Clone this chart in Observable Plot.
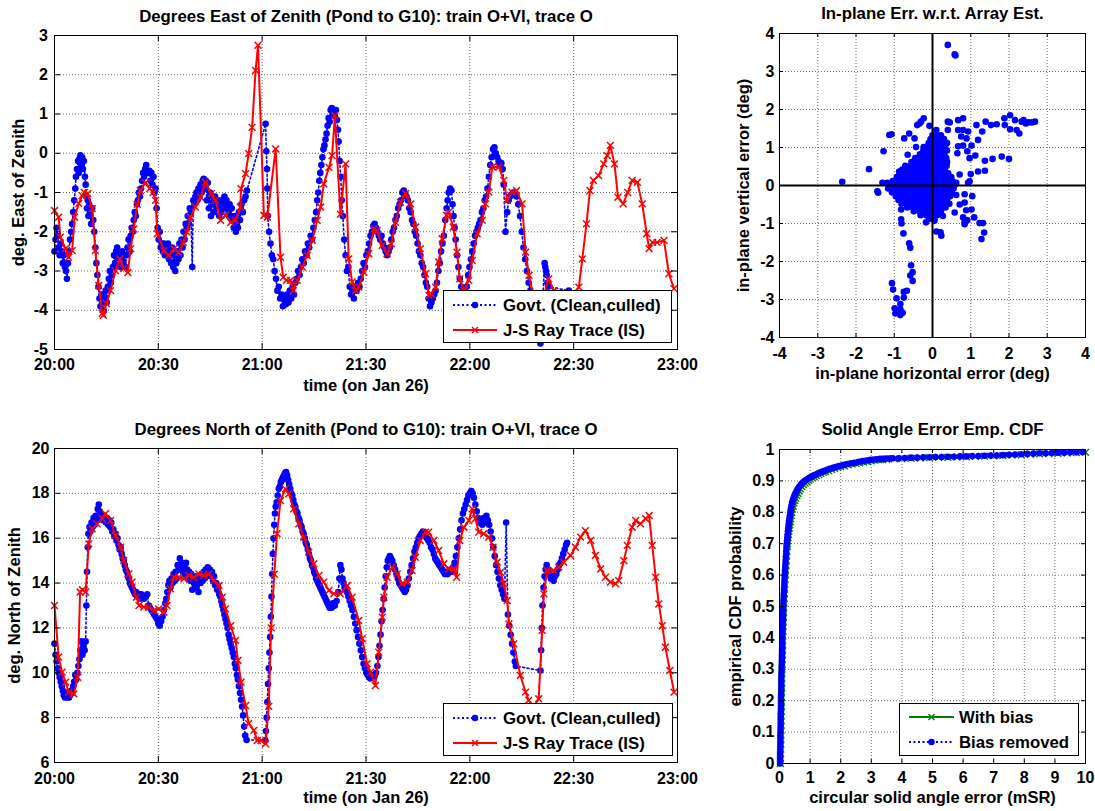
<!DOCTYPE html>
<html><head><meta charset="utf-8">
<script src="https://cdn.jsdelivr.net/npm/d3@7"></script>
<script src="https://cdn.jsdelivr.net/npm/@observablehq/plot@0.6"></script>
<style>
html,body{margin:0;padding:0;background:#fff;}
#page{position:relative;width:1095px;height:811px;overflow:hidden;background:#fff;}
</style></head><body><div id="page"></div>
<script>
// ---------------- DATA ----------------
const timeTicks = [0, 30, 60, 90, 120, 150, 180];
const timeLabels = ["20:00", "20:30", "21:00", "21:30", "22:00", "22:30", "23:00"];
const eastTicks = [-5, -4, -3, -2, -1, 0, 1, 2, 3];
const northTicks = [6, 8, 10, 12, 14, 16, 18, 20];
const errTicks = [-4, -3, -2, -1, 0, 1, 2, 3, 4];
const cdfXTicks = [0, 1, 2, 3, 4, 5, 6, 7, 8, 9, 10];
const cdfYTicks = [0, 0.1, 0.2, 0.3, 0.4, 0.5, 0.6, 0.7, 0.8, 0.9, 1];

const titles = [
  "Degrees East of Zenith (Pond to G10): train O+VI, trace O",
  "In-plane Err. w.r.t. Array Est.",
  "Degrees North of Zenith (Pond to G10): train O+VI, trace O",
  "Solid Angle Error Emp. CDF"
];
const seriesNames = ["Govt. (Clean,culled)", "J-S Ray Trace (IS)"];
const cdfNames = ["With bias", "Bias removed"];

// minutes after 20:00, degrees east of zenith
const eastRay = [[0,-1.46],[1.2,-1.63],[1.7,-2.14],[3.2,-2.43],[4.1,-2.65],[5.1,-2.48],[5.8,-1.63],[7,-1.28],[8,-1.08],[8.6,-1.0],[9.6,-1.03],[10.9,-1.41],[11.8,-2.48],[12.8,-3.37],[13.8,-4.08],[14.1,-4.13],[15,-3.83],[16.2,-3.5],[17.6,-2.99],[18.9,-2.69],[20,-2.94],[21.2,-3.04],[22,-2.43],[22.9,-1.93],[23.9,-1.3],[24.8,-0.95],[26.3,-0.75],[27.5,-0.9],[28.5,-1.0],[29.2,-1.2],[29.7,-2.05],[31.6,-2.48],[33,-2.6],[34.5,-2.43],[35.9,-2.53],[37.2,-2.27],[38.3,-2.01],[39.3,-1.63],[40.7,-1.37],[42.2,-1.12],[43.6,-0.74],[45.3,-1.03],[46.5,-1.2],[48,-1.71],[49.4,-1.58],[50.9,-1.76],[52.3,-1.71],[53.7,-1.37],[53.9,-0.9],[55.2,-0.52],[56.1,-0.01],[57.1,0.66],[58.1,2.11],[58.8,2.75],[60.5,-1.58],[61.5,-1.63],[63.9,0.11],[65.3,-2.65],[66.1,-3.16],[67,-3.24],[68.2,-3.24],[69,-3.5],[70.1,-3.24],[71.6,-2.9],[73,-2.6],[74.5,-2.22],[75.9,-1.71],[76.9,-1.37],[77.8,-0.78],[79.3,-0.36],[80.2,-0.06],[81,0.96],[82.6,-1.55],[84.1,-0.27],[85,-2.69],[86,-3.28],[87,-3.5],[87.9,-3.41],[89.4,-3.03],[90.8,-2.56],[92.3,-1.93],[93.2,-1.97],[94.7,-2.35],[96.1,-2.56],[97.3,-2.31],[98.5,-1.76],[100,-1.25],[101.4,-1.03],[102.9,-1.29],[104.3,-1.88],[105.7,-2.43],[107.2,-3.07],[108.2,-3.62],[108.8,-3.58],[110.1,-3.41],[111,-2.77],[112,-2.18],[113.3,-1.58],[113.9,-1.5],[115.2,-1.88],[116.3,-2.52],[117.1,-3.2],[118.3,-3.5],[119.7,-3.24],[120.7,-2.73],[122.1,-2.05],[123.6,-1.71],[124.5,-1.29],[125.5,-0.99],[126.5,-0.35],[128.4,-0.35],[129.8,-0.69],[130.8,-1.2],[132.2,-0.99],[133.5,-0.95],[135.1,-1.29],[136.1,-2.52],[137.1,-3.11],[138.5,-3.7],[140,-3.9],[141.4,-3.6],[142.8,-3.2],[144.3,-3.5],[145.8,-3.8],[147.2,-3.9],[148.7,-3.8],[150.1,-3.6],[151.5,-3.41],[152.5,-2.69],[153.7,-1.8],[154.7,-0.95],[155.7,-0.69],[157.2,-0.57],[158.7,-0.27],[159.7,-0.06],[160.6,0.2],[161.8,-0.27],[162.8,-1.12],[164.3,-1.29],[165.6,-1.0],[166.9,-0.69],[168.4,-0.74],[169.8,-1.29],[171.1,-2.05],[171.8,-2.43],[172.8,-2.27],[174.1,-2.27],[176.1,-2.22],[177.5,-3.07],[179,-3.45]];

const eastGovt = [[0,-2.5],[0.3,-2.2],[0.6,-1.9],[0.9,-2.1],[1.2,-2.4],[1.5,-2.6],[1.8,-2.3],[2.1,-2.5],[2.4,-2.8],[2.7,-2.6],[3,-2.9],[3.3,-3.0],[3.6,-3.2],[3.9,-2.8],[4.2,-2.5],[4.5,-2.2],[4.8,-2.0],[5.1,-1.8],[5.4,-1.5],[5.7,-1.2],[6,-0.9],[6.2,-0.6],[6.5,-0.4],[6.8,-0.2],[7,-0.5],[7.2,-0.15],[7.5,-0.05],[7.8,-0.3],[8,-0.1],[8.2,-0.4],[8.5,-0.2],[8.8,-0.6],[9,-0.8],[9.2,-1.1],[9.4,-1.4],[9.6,-1.2],[9.8,-1.6],[10,-1.3],[10.3,-1.5],[10.6,-1.8],[10.9,-1.4],[11.2,-1.7],[11.5,-2.0],[11.8,-2.4],[12.1,-2.8],[12.4,-3.1],[12.7,-3.4],[13,-3.7],[13.3,-3.9],[13.6,-3.6],[13.9,-3.8],[14.2,-4.0],[14.5,-3.7],[14.8,-3.5],[15.1,-3.8],[15.4,-3.4],[15.7,-3.2],[16,-3.0],[16.3,-3.3],[16.6,-3.1],[16.9,-2.9],[17.2,-2.6],[17.5,-2.8],[17.8,-2.5],[18.1,-2.4],[18.4,-2.7],[18.7,-2.6],[19,-2.9],[19.3,-2.7],[19.6,-2.5],[19.9,-2.8],[20.2,-2.6],[20.5,-2.9],[20.8,-2.6],[21.1,-2.4],[21.4,-2.2],[21.7,-2.5],[22,-2.1],[22.3,-1.9],[22.6,-2.0],[22.9,-1.7],[23.2,-1.5],[23.5,-1.6],[23.8,-1.3],[24.1,-1.2],[24.4,-1.0],[24.7,-1.1],[25,-0.9],[25.3,-0.7],[25.6,-0.5],[25.9,-0.6],[26.2,-0.4],[26.5,-0.3],[26.8,-0.45],[27.1,-0.5],[27.4,-0.45],[27.7,-0.7],[28,-0.5],[28.3,-0.8],[28.6,-0.6],[28.9,-1.0],[29.2,-0.9],[29.5,-1.4],[29.8,-1.9],[30.1,-2.2],[30.4,-2.0],[30.7,-2.4],[31,-2.3],[31.3,-2.5],[31.6,-2.3],[31.9,-2.6],[32.2,-2.4],[32.5,-2.6],[32.8,-2.3],[33.1,-2.7],[33.4,-2.5],[33.7,-2.8],[34,-2.4],[34.3,-2.9],[34.6,-2.6],[34.9,-3.0],[35.2,-2.8],[35.5,-2.5],[35.8,-2.7],[36.1,-2.3],[36.4,-2.6],[36.7,-2.2],[37,-2.4],[37.3,-2.0],[37.6,-2.2],[37.9,-1.8],[38.2,-1.9],[38.5,-1.6],[38.8,-1.8],[39.1,-1.4],[39.4,-1.5],[39.8,-2.9],[40.1,-1.2],[40.4,-1.3],[40.7,-1.1],[41,-1.0],[41.3,-1.2],[41.6,-0.9],[41.9,-1.1],[42.2,-0.8],[42.5,-1.0],[42.8,-0.7],[43.1,-0.65],[43.4,-0.9],[43.7,-0.7],[44,-1.2],[44.3,-0.75],[44.6,-1.4],[44.9,-1.0],[45.2,-1.6],[45.5,-1.1],[45.8,-1.3],[46.1,-1.5],[46.4,-1.1],[46.7,-1.2],[47,-1.4],[47.3,-1.2],[47.6,-1.6],[47.9,-1.3],[48.2,-1.5],[48.5,-1.2],[48.8,-1.3],[49.1,-1.1],[49.4,-1.4],[49.7,-1.2],[50,-1.3],[50.3,-1.5],[50.6,-1.3],[50.9,-1.6],[51.2,-1.4],[51.5,-1.7],[51.8,-1.9],[52.1,-1.6],[52.4,-2.0],[52.7,-1.8],[53,-1.9],[53.3,-1.5],[53.6,-1.7],[54,-1.3],[54.4,-1.5],[54.8,-1.2],[55.2,-1.1],[55.6,-0.95],[61,0.75],[61.2,0.05],[61.4,-0.4],[61.5,-0.9],[61.6,-1.6],[62,-2.0],[62.4,-2.3],[62.8,-2.6],[63.2,-2.7],[63.6,-3.0],[64,-3.2],[64.4,-3.5],[64.8,-3.4],[65.2,-3.7],[65.6,-3.6],[66,-3.9],[66.4,-3.7],[66.8,-3.85],[67.2,-3.6],[67.6,-3.8],[68,-3.5],[68.4,-3.7],[68.8,-3.4],[69.2,-3.6],[69.6,-3.3],[70,-3.2],[70.4,-3.0],[70.8,-3.1],[71.2,-2.9],[71.6,-2.7],[72,-2.8],[72.4,-2.5],[72.8,-2.6],[73.2,-2.3],[73.6,-2.4],[74,-2.1],[74.4,-2.2],[74.8,-1.9],[75.2,-1.7],[75.6,-1.5],[75.9,-1.2],[76.2,-1.0],[76.5,-0.7],[76.8,-0.5],[77.1,-0.3],[77.4,-0.1],[77.7,0.1],[78,0.2],[78.3,0.35],[78.6,0.5],[78.9,0.7],[79.2,0.9],[79.5,0.8],[79.8,1.1],[80.1,1.15],[80.4,1.0],[80.7,1.1],[81,0.95],[81.3,1.1],[81.6,0.85],[81.9,0.6],[82.1,0.3],[82.4,-0.2],[82.7,-0.6],[83,-1.2],[83.3,-1.6],[83.7,-2.2],[84.1,-2.6],[84.5,-3.0],[84.9,-2.9],[85.3,-3.4],[85.7,-3.6],[86.1,-3.5],[86.5,-3.7],[86.9,-3.4],[87.3,-3.5],[87.7,-3.3],[88.1,-3.4],[88.5,-3.2],[88.9,-3.0],[89.3,-2.8],[89.7,-2.9],[90.1,-2.6],[90.5,-2.5],[90.9,-2.3],[91.3,-2.1],[91.7,-2.0],[92.1,-1.85],[92.5,-1.8],[92.9,-1.9],[93.3,-2.0],[93.7,-2.1],[94.1,-2.2],[94.5,-2.1],[94.9,-2.3],[95.3,-2.4],[95.7,-2.5],[96.1,-2.6],[96.5,-2.5],[96.9,-2.4],[97.3,-2.2],[97.7,-2.0],[98.1,-1.9],[98.5,-1.7],[98.9,-1.6],[99.3,-1.4],[99.7,-1.3],[100.1,-1.2],[100.5,-1.0],[100.9,-0.95],[101.3,-1.05],[101.7,-1.1],[102.1,-1.2],[102.5,-1.4],[102.9,-1.5],[103.3,-1.7],[103.7,-1.8],[104.1,-2.0],[104.5,-2.1],[104.9,-2.3],[105.3,-2.5],[105.7,-2.6],[106.1,-2.8],[106.5,-2.9],[106.9,-3.1],[107.3,-3.3],[107.7,-3.4],[108.1,-3.7],[108.5,-3.9],[108.9,-3.8],[109.3,-3.7],[109.7,-3.6],[110.1,-3.5],[110.5,-3.3],[110.9,-3.0],[111.3,-2.8],[111.7,-2.5],[112.1,-2.3],[112.5,-2.1],[112.9,-1.7],[113.3,-1.4],[113.6,-1.2],[113.9,-1.0],[114.3,-0.9],[114.7,-0.95],[115,-1.3],[115.3,-1.6],[115.6,-1.9],[115.9,-2.2],[116.3,-2.6],[116.7,-2.9],[117.1,-3.2],[117.5,-3.4],[117.9,-3.6],[118.3,-3.8],[118.7,-3.7],[119.1,-3.4],[119.5,-3.1],[119.9,-2.9],[120.3,-2.7],[120.7,-2.5],[121.1,-2.3],[121.5,-2.1],[121.9,-2.0],[122.3,-1.9],[122.7,-1.8],[123.1,-1.7],[123.5,-1.5],[123.9,-1.4],[124.3,-1.2],[124.7,-1.1],[125.1,-0.9],[125.5,-0.6],[125.9,-0.3],[126.3,-0.1],[126.7,0.1],[127.1,0.15],[127.5,0.0],[127.9,-0.1],[128.3,-0.2],[128.7,-0.3],[129.1,-0.25],[129.5,-0.4],[129.8,-0.8],[130.3,-2.0],[130.8,-1.5],[131.2,-1.2],[131.6,-1.1],[132,-1.05],[132.5,-1.0],[133,-1.05],[133.5,-1.1],[134,-1.3],[134.5,-1.6],[135,-2.0],[135.5,-2.4],[136,-2.7],[136.5,-3.0],[137,-3.3],[137.5,-3.5],[138,-3.7],[138.5,-3.9],[140.4,-4.85],[141.6,-2.8],[141.8,-2.9],[142,-3.0],[142.2,-3.1],[142.4,-3.3],[142.6,-3.4],[148.6,-3.5]];

// minutes after 20:00, degrees north of zenith
const northRay = [[0,13.0],[1.2,10.7],[2.2,10.03],[3.2,9.58],[4.1,9.14],[5.6,9.06],[6.7,9.8],[7.4,13.6],[8.1,13.7],[9,13.6],[9.9,15.75],[10.9,16.42],[12.3,16.64],[13.8,16.87],[14.7,17.09],[16.2,16.79],[17.6,16.12],[19.1,15.6],[20,15.0],[21.5,14.41],[22.4,14.04],[23.7,13.37],[24.4,13.0],[25.8,12.93],[27.2,12.93],[28.7,12.78],[30.1,12.85],[31.6,12.7],[32.5,13.0],[33.5,13.74],[34.5,14.26],[35.9,14.26],[37.4,14.19],[38.8,14.34],[40.2,14.26],[41.7,14.41],[43.1,14.34],[44.6,14.41],[46,14.11],[47.5,13.89],[48.5,13.37],[49.4,12.85],[50.9,12.1],[52.3,11.44],[53,10.55],[53.9,9.58],[55.2,8.54],[56.1,7.73],[57.6,7.43],[58.6,6.98],[59.7,6.98],[61,6.83],[61.9,8.5],[62.6,12.0],[63.5,14.4],[64.3,16.2],[65.3,17.68],[66.7,18.2],[67.7,17.98],[69.1,17.31],[70.6,16.64],[72,16.05],[73.5,15.38],[74.9,14.86],[76.4,14.34],[77.8,14.04],[79.3,13.67],[80.7,13.52],[82.6,13.52],[84.6,13.89],[86,13.37],[87.9,12.33],[88.9,11.52],[90.3,10.4],[91.3,10.03],[92.7,9.43],[93.7,10.92],[94.7,12.48],[95.2,13.37],[96.1,14.26],[97.6,14.71],[99,14.41],[100.4,13.97],[101.9,14.04],[103.3,14.56],[104.3,15.15],[105.7,15.9],[107.2,16.27],[108.1,16.27],[109.6,15.9],[111,15.45],[112.5,14.86],[113.9,14.63],[115.4,14.63],[116.2,14.26],[117.1,15.9],[118.3,16.49],[119.7,16.79],[120.7,17.31],[121.6,16.87],[122.6,16.27],[124,16.2],[125.5,16.05],[126.7,15.6],[127.9,14.93],[128.9,14.48],[129.8,13.97],[130.8,13.22],[131.3,12.18],[132.7,11.29],[134.6,9.88],[136.1,9.14],[137,8.77],[138.5,8.5],[139.9,8.84],[140.9,11.89],[141.4,13.52],[142.3,14.56],[144.2,14.56],[145.7,14.71],[147.1,14.93],[149.1,15.23],[150.5,15.6],[152,16.05],[153.4,16.34],[154.9,15.9],[156.3,15.23],[157.8,14.63],[159.2,14.26],[160.6,14.04],[162.1,13.97],[163,14.11],[164.5,15.0],[165.5,15.68],[166.9,16.49],[167.9,16.79],[169.3,16.64],[170.8,16.87],[171.8,17.01],[172.7,15.68],[173.7,14.26],[174.6,13.07],[175.6,12.1],[176.5,11.14],[177.8,10.1],[179,9.14]];

const northGovt = [[0,11.3],[0.3,10.8],[0.6,10.5],[0.9,10.2],[1.2,10.0],[1.5,9.8],[1.8,9.6],[2.1,9.4],[2.4,9.2],[2.7,9.0],[3,8.9],[3.3,9.0],[3.6,8.9],[3.9,9.1],[4.2,8.9],[4.5,9.0],[4.8,9.2],[5.1,9.1],[5.4,9.4],[5.7,9.6],[6,9.9],[6.3,9.7],[6.6,10.0],[6.9,10.3],[7.2,10.6],[7.5,11.0],[7.8,11.4],[8.1,10.8],[8.4,11.2],[8.7,11.0],[9,11.4],[9.2,13.0],[9.4,14.5],[9.6,15.6],[9.8,16.2],[10.1,16.5],[10.4,16.3],[10.7,16.7],[11,16.5],[11.3,16.9],[11.6,16.6],[11.9,17.0],[12.2,16.8],[12.5,17.3],[12.8,17.5],[13.1,17.2],[13.4,16.9],[13.7,17.0],[14,16.8],[14.3,17.0],[14.6,16.9],[14.9,16.7],[15.2,16.9],[15.5,16.6],[15.8,16.8],[16.1,16.5],[16.4,16.7],[16.7,16.3],[17,16.4],[17.3,16.1],[17.6,16.2],[17.9,15.9],[18.2,16.0],[18.5,15.7],[18.8,15.5],[19.1,15.6],[19.4,15.3],[19.7,15.1],[20,15.0],[20.3,14.8],[20.6,14.6],[20.9,14.5],[21.2,14.3],[21.5,14.2],[21.8,14.0],[22.1,13.9],[22.4,13.8],[22.7,13.7],[23,13.6],[23.3,13.5],[23.6,13.6],[23.9,13.4],[24.2,13.5],[24.5,13.4],[24.8,13.3],[25.1,13.5],[25.5,13.4],[25.9,13.3],[26.3,13.4],[26.8,13.5],[27.2,13.0],[27.6,12.9],[28,12.8],[28.4,12.7],[28.8,12.6],[29.2,12.5],[29.6,12.4],[30,12.2],[30.4,12.1],[30.8,12.3],[31.2,12.5],[31.6,12.8],[32,13.1],[32.3,13.3],[32.6,13.6],[32.9,13.9],[33.2,14.1],[33.5,13.8],[33.8,14.2],[34.1,14.0],[34.4,14.4],[34.7,14.1],[35,14.5],[35.3,14.2],[35.6,14.8],[35.9,14.6],[36.2,15.1],[36.5,14.7],[36.8,14.9],[37.1,14.5],[37.4,14.8],[37.7,14.4],[38,14.9],[38.3,14.6],[38.6,14.2],[38.9,14.5],[39.2,14.1],[39.5,14.4],[39.8,13.7],[40.1,14.2],[40.4,14.0],[40.7,14.3],[41,13.8],[41.3,14.1],[41.6,13.6],[41.9,14.3],[42.2,14.0],[42.5,14.4],[42.8,14.1],[43.1,14.5],[43.4,14.2],[43.7,14.6],[44,14.3],[44.3,14.7],[44.6,14.4],[44.9,14.6],[45.2,14.3],[45.5,14.5],[45.8,14.1],[46.1,14.3],[46.4,13.9],[46.7,14.0],[47,13.7],[47.3,13.8],[47.6,13.5],[47.9,13.4],[48.2,13.2],[48.5,13.0],[48.8,12.8],[49.1,12.6],[49.4,12.4],[49.7,12.2],[50,12.0],[50.3,11.7],[50.6,11.5],[50.9,11.3],[51.2,11.1],[51.5,10.9],[51.8,10.7],[52.1,10.4],[52.4,10.2],[52.7,9.9],[53,9.7],[53.3,9.4],[53.6,9.1],[53.9,8.8],[54.2,8.5],[54.5,8.1],[54.8,7.6],[55.1,7.2],[55.5,7.0],[60.9,7.0],[61.1,7.4],[61.3,8.0],[61.5,8.7],[61.7,9.5],[61.9,10.2],[62.1,10.9],[62.3,11.6],[62.5,12.5],[62.7,13.4],[62.9,14.4],[63.1,15.3],[63.3,16.0],[63.5,16.6],[63.7,17.1],[63.9,17.4],[64.2,17.6],[64.5,17.9],[64.8,18.2],[65.1,18.3],[65.4,18.5],[65.7,18.6],[66,18.7],[66.3,18.8],[66.6,18.9],[66.9,18.95],[67.2,18.8],[67.5,18.6],[67.8,18.4],[68.1,18.2],[68.4,18.0],[68.7,17.9],[69,17.7],[69.3,17.5],[69.6,17.4],[69.9,17.2],[70.2,17.1],[70.5,16.9],[70.8,16.8],[71.1,16.6],[71.4,16.5],[71.7,16.3],[72,16.2],[72.3,16.0],[72.6,15.8],[72.9,15.7],[73.2,15.5],[73.5,15.3],[73.8,15.1],[74.1,15.0],[74.4,14.8],[74.7,14.7],[75,14.5],[75.3,14.4],[75.6,14.2],[75.9,14.1],[76.2,14.0],[76.5,13.9],[76.8,13.8],[77.1,13.7],[77.4,13.6],[77.7,13.5],[78,13.4],[78.3,13.3],[78.6,13.2],[78.9,13.1],[79.2,13.0],[79.5,12.9],[79.8,13.0],[80.1,12.9],[80.4,13.1],[80.7,13.0],[81,13.0],[81.5,13.2],[82,13.6],[82.3,14.2],[82.6,14.8],[82.9,14.6],[83.2,14.2],[83.5,14.0],[83.8,13.8],[84.1,13.7],[84.5,13.6],[84.9,13.4],[85.3,13.2],[85.7,13.0],[86.1,12.8],[86.5,12.5],[86.9,12.2],[87.3,11.9],[87.7,11.6],[88.1,11.3],[88.5,11.0],[88.9,10.7],[89.3,10.4],[89.7,10.2],[90.1,10.0],[90.5,9.9],[90.9,9.8],[91.3,9.75],[91.7,9.8],[92.1,9.9],[92.5,9.85],[92.9,10.0],[93.3,10.3],[93.6,10.7],[93.9,11.2],[94.2,11.7],[94.5,12.3],[94.8,12.8],[95.1,13.3],[95.4,13.8],[95.7,14.3],[96,14.7],[96.3,15.0],[96.6,15.1],[96.9,15.2],[97.2,15.1],[97.6,15.0],[98,14.8],[98.4,14.6],[98.8,14.4],[99.2,14.2],[99.6,14.0],[100,13.9],[100.4,13.8],[100.8,13.7],[101.2,13.6],[101.6,13.7],[102,13.9],[102.4,14.2],[102.8,14.5],[103.2,14.8],[103.6,15.1],[104,15.4],[104.4,15.6],[104.8,15.8],[105.2,16.0],[105.6,16.1],[106,16.2],[106.4,16.3],[106.8,16.2],[107.2,16.1],[107.6,16.0],[108,15.9],[108.4,15.8],[108.8,15.6],[109.2,15.5],[109.6,15.3],[110,15.1],[110.4,15.0],[110.8,14.9],[111.2,14.8],[111.6,14.7],[112,14.6],[112.4,14.5],[112.8,14.4],[113.2,14.5],[113.6,14.4],[114,14.5],[114.4,14.6],[114.8,14.5],[115.2,14.7],[115.6,14.9],[116,15.2],[116.4,15.6],[116.8,16.0],[117.2,16.4],[117.6,16.8],[118,17.1],[118.4,17.3],[118.8,17.5],[119.2,17.7],[119.6,17.9],[120,18.0],[120.4,18.1],[120.8,18.0],[121.2,17.8],[121.6,17.5],[122,17.2],[122.4,16.9],[122.8,16.7],[123.2,16.8],[123.6,16.6],[124,16.9],[124.4,16.7],[124.8,17.0],[125.2,16.8],[125.6,16.6],[126,16.3],[126.4,16.0],[126.8,15.6],[127.2,15.2],[127.6,14.8],[128,14.5],[128.4,14.2],[128.8,13.9],[129.2,13.7],[129.6,13.5],[130,13.3],[130.5,16.7],[131,12.6],[131.4,12.1],[131.8,11.7],[132.2,11.3],[132.6,10.9],[133,10.5],[133.3,10.3],[140.4,10.1],[140.6,11.0],[140.8,12.0],[141,13.0],[141.3,13.8],[141.6,14.3],[141.9,14.6],[142.2,14.8],[142.6,14.6],[143,14.4],[143.4,14.2],[143.8,14.3],[144.2,14.1],[144.6,14.3],[145,14.4],[145.4,14.6],[145.8,14.8],[146.2,14.9],[146.6,15.1],[147,15.3],[147.4,15.5],[147.8,15.7],[148.1,15.8]];

// in-plane error scatter: [horizontal, vertical] (deg)
const errOutliers = [[0.40,3.70],[0.60,3.42],[0.58,3.45],[-2.36,0.10],[-1.66,0.43],[-1.28,0.90],[-1.13,1.33],[-1.07,1.35],[-0.61,1.37],[-0.74,1.24],[-0.47,1.24],[-0.40,1.59],[-0.30,1.68],[-0.23,1.77],[-0.34,1.63],[-0.08,1.57],[0.10,1.46],[0.40,1.68],[0.45,1.66],[0.67,1.72],[0.80,1.77],[0.40,1.46],[0.67,1.46],[0.80,1.46],[0.93,1.42],[0.75,1.29],[0.89,1.24],[1.19,1.20],[1.15,1.59],[1.30,1.42],[1.39,1.68],[1.53,1.59],[1.68,1.61],[1.88,1.77],[2.03,1.85],[1.89,1.59],[2.03,1.48],[2.16,1.72],[2.20,1.46],[2.27,1.37],[2.33,1.68],[2.38,1.72],[2.44,1.63],[2.51,1.66],[2.60,1.66],[2.68,1.68],[-0.65,0.81],[-0.43,1.01],[-0.23,1.01],[0.67,1.03],[0.80,1.05],[1.02,1.05],[0.65,0.85],[0.91,0.90],[1.12,0.79],[0.97,0.72],[1.37,0.65],[1.57,0.70],[1.81,0.76],[2.00,0.70],[1.00,0.30],[1.19,0.37],[1.37,0.39],[0.97,0.11],[0.71,0.29],[0.62,0.07],[0.93,0.07],[-0.87,0.37],[-0.78,0.37],[-1.31,0.07],[-1.44,-0.15],[-1.18,0.07],[-1.00,0.11],[-1.42,-0.19],[-0.82,-0.63],[-0.82,-0.89],[-0.81,-1.00],[-0.76,-1.26],[-0.61,-1.52],[-0.58,-1.64],[-0.56,-2.10],[-0.52,-2.28],[-0.58,-2.37],[-0.52,-2.51],[-1.06,-2.57],[-1.03,-2.74],[-0.75,-2.80],[-0.67,-2.77],[-0.94,-2.97],[-0.75,-2.95],[-0.84,-3.12],[-0.99,-3.23],[-0.97,-3.37],[-0.84,-3.26],[-0.78,-3.35],[-0.84,-3.41],[-0.17,-0.97],[0.05,-0.93],[0.10,-1.21],[0.21,-1.23],[0.23,-1.32],[0.27,-0.80],[0.58,-0.71],[0.71,-0.50],[0.84,-0.45],[0.84,-0.23],[1.04,-0.28],[0.62,-0.25],[0.88,-0.65],[1.02,-0.63],[0.80,-0.84],[0.84,-0.97],[0.91,-0.91],[1.09,-0.84],[0.84,-1.02],[1.23,-0.99],[1.32,-0.99],[1.28,-1.41],[1.35,-1.24]];
// dense core of the scatter: [vertical, [horizontal values]]
const errCoreRows = [
  [1.32, [0.0, 0.12, 0.22]],
  [1.22, [-0.05, 0.07, 0.18, 0.3]],
  [1.12, [-0.1, 0.03, 0.15, 0.27, 0.38]],
  [1.02, [-0.16, -0.03, 0.09, 0.21, 0.33]],
  [0.92, [-0.24, -0.1, 0.02, 0.14, 0.26, 0.38]],
  [0.82, [-0.33, -0.19, -0.06, 0.07, 0.2, 0.31]],
  [0.72, [-0.45, -0.3, -0.16, -0.03, 0.1, 0.23, 0.36]],
  [0.62, [-0.55, -0.41, -0.27, -0.13, 0.0, 0.13, 0.26, 0.38]],
  [0.52, [-0.71, -0.56, -0.42, -0.28, -0.14, 0.01, 0.13, 0.26, 0.37]],
  [0.42, [-0.79, -0.63, -0.49, -0.35, -0.21, -0.08, 0.06, 0.19, 0.32]],
  [0.32, [-0.86, -0.71, -0.57, -0.43, -0.29, -0.15, 0.0, 0.13, 0.26, 0.41]],
  [0.22, [-0.93, -0.79, -0.65, -0.51, -0.37, -0.23, -0.09, 0.05, 0.2, 0.35, 0.49]],
  [0.12, [-1.04, -0.9, -0.76, -0.61, -0.47, -0.33, -0.19, -0.05, 0.1, 0.24, 0.38, 0.52]],
  [0.02, [-1.12, -0.97, -0.83, -0.69, -0.55, -0.41, -0.27, -0.13, 0.02, 0.16, 0.3, 0.45, 0.58]],
  [-0.08, [-1.16, -1.01, -0.87, -0.73, -0.59, -0.45, -0.31, -0.17, -0.03, 0.11, 0.26, 0.4, 0.55]],
  [-0.18, [-1.06, -0.91, -0.77, -0.63, -0.49, -0.35, -0.21, -0.07, 0.08, 0.22, 0.36, 0.5]],
  [-0.28, [-0.96, -0.81, -0.67, -0.53, -0.39, -0.25, -0.11, 0.04, 0.18, 0.32, 0.46]],
  [-0.38, [-0.89, -0.75, -0.61, -0.47, -0.33, -0.19, -0.05, 0.1, 0.24, 0.38]],
  [-0.48, [-0.81, -0.67, -0.53, -0.39, -0.25, -0.11, 0.04, 0.18, 0.31, 0.44]],
  [-0.58, [-0.66, -0.51, -0.37, -0.23, -0.09, 0.06, 0.2, 0.34]],
  [-0.68, [-0.49, -0.35, -0.21, -0.07, 0.08, 0.22]],
  [-0.78, [-0.31, -0.16, -0.01, 0.12]],
  [-0.88, [-0.09, 0.05]]
];

// empirical CDF: [solid angle error (mSR), probability]
const cdfWithBias = [[0.03,0.00],[0.03,0.015],[0.03,0.03],[0.035,0.045],[0.04,0.06],[0.04,0.075],[0.04,0.09],[0.045,0.105],[0.05,0.12],[0.05,0.135],[0.05,0.15],[0.055,0.165],[0.06,0.18],[0.06,0.195],[0.06,0.21],[0.065,0.225],[0.07,0.24],[0.07,0.255],[0.07,0.27],[0.075,0.285],[0.08,0.30],[0.085,0.315],[0.09,0.33],[0.095,0.345],[0.10,0.36],[0.10,0.375],[0.10,0.39],[0.105,0.405],[0.11,0.42],[0.115,0.435],[0.12,0.45],[0.125,0.465],[0.13,0.48],[0.135,0.495],[0.14,0.51],[0.15,0.525],[0.16,0.54],[0.165,0.555],[0.17,0.57],[0.18,0.585],[0.19,0.60],[0.20,0.615],[0.21,0.63],[0.22,0.645],[0.23,0.66],[0.24,0.675],[0.25,0.69],[0.26,0.70],[0.27,0.71],[0.28,0.72],[0.29,0.73],[0.305,0.74],[0.32,0.75],[0.335,0.76],[0.35,0.77],[0.365,0.78],[0.38,0.79],[0.40,0.80],[0.42,0.81],[0.445,0.82],[0.47,0.83],[0.50,0.838],[0.53,0.845],[0.565,0.853],[0.60,0.86],[0.64,0.868],[0.68,0.875],[0.73,0.882],[0.78,0.888],[0.835,0.893],[0.89,0.898],[0.945,0.902],[1.0,0.906],[1.07,0.91],[1.13,0.913],[1.2,0.917],[1.28,0.920],[1.35,0.924],[1.43,0.927],[1.5,0.93],[1.6,0.933],[1.7,0.937],[1.8,0.940],[1.9,0.943],[2.0,0.946],[2.12,0.948],[2.25,0.951],[2.37,0.954],[2.5,0.956],[2.62,0.958],[2.75,0.960],[2.87,0.962],[3.0,0.964],[3.12,0.966],[3.25,0.967],[3.37,0.968],[3.5,0.969],[3.75,0.970],[4.0,0.971],[4.3,0.972],[4.6,0.973],[4.9,0.974],[5.2,0.975],[5.5,0.975],[5.8,0.976],[6.1,0.977],[6.4,0.978],[6.7,0.979],[7.0,0.980],[7.3,0.981],[7.6,0.982],[7.9,0.983],[8.2,0.985],[8.5,0.986],[8.8,0.987],[9.1,0.988],[9.4,0.989],[9.7,0.990],[10.0,0.991]];
const cdfBiasRemoved = [[0.02,0.00],[0.02,0.015],[0.02,0.03],[0.025,0.045],[0.03,0.06],[0.03,0.075],[0.03,0.09],[0.035,0.105],[0.04,0.12],[0.04,0.135],[0.04,0.15],[0.045,0.165],[0.05,0.18],[0.05,0.195],[0.05,0.21],[0.055,0.225],[0.06,0.24],[0.06,0.255],[0.06,0.27],[0.065,0.285],[0.07,0.30],[0.075,0.315],[0.08,0.33],[0.08,0.345],[0.085,0.36],[0.09,0.375],[0.09,0.39],[0.095,0.405],[0.10,0.42],[0.105,0.435],[0.11,0.45],[0.115,0.465],[0.12,0.48],[0.125,0.495],[0.13,0.51],[0.135,0.525],[0.14,0.54],[0.15,0.555],[0.16,0.57],[0.165,0.585],[0.17,0.60],[0.18,0.615],[0.19,0.63],[0.20,0.645],[0.21,0.66],[0.22,0.675],[0.23,0.69],[0.24,0.70],[0.25,0.71],[0.26,0.72],[0.27,0.73],[0.28,0.74],[0.29,0.75],[0.30,0.76],[0.31,0.77],[0.325,0.78],[0.34,0.79],[0.355,0.80],[0.37,0.81],[0.39,0.82],[0.41,0.83],[0.435,0.838],[0.46,0.845],[0.49,0.853],[0.52,0.86],[0.56,0.868],[0.60,0.875],[0.65,0.882],[0.70,0.888],[0.75,0.893],[0.80,0.898],[0.86,0.902],[0.92,0.906],[0.98,0.91],[1.05,0.913],[1.12,0.917],[1.2,0.920],[1.27,0.924],[1.35,0.927],[1.42,0.93],[1.5,0.933],[1.6,0.937],[1.7,0.940],[1.8,0.943],[1.9,0.946],[2.0,0.948],[2.1,0.951],[2.22,0.954],[2.35,0.956],[2.47,0.958],[2.6,0.961],[2.72,0.963],[2.85,0.965],[2.97,0.967],[3.1,0.968],[3.2,0.969],[3.3,0.970],[3.4,0.970],[3.5,0.971],[3.6,0.971],[3.7,0.972],[3.9,0.972],[4.1,0.973],[4.3,0.974],[4.5,0.974],[4.7,0.975],[4.9,0.975],[5.1,0.976],[5.3,0.976],[5.5,0.977],[5.7,0.977],[5.9,0.978],[6.1,0.978],[6.3,0.979],[6.5,0.979],[6.7,0.980],[6.9,0.981],[7.1,0.981],[7.3,0.982],[7.5,0.983],[7.7,0.984],[7.9,0.985],[8.1,0.986],[8.3,0.987],[8.5,0.988],[8.7,0.988],[8.9,0.989],[9.1,0.990],[9.3,0.990],[9.5,0.991],[9.7,0.991],[9.9,0.992]];

// ---------------- DRAWING ----------------
const FONT = '"Liberation Sans", Arial, Helvetica, sans-serif';
const BLUE = "#0000ff", RED = "#ff0000", GREEN = "#008000";
const page = document.getElementById("page");
const px = d => d[0], py = d => d[1];

function panel(o) {
  const [mt, mr, mb, ml] = o.margin;
  const W = o.width - ml - mr, H = o.height - mt - mb, L = o.tickLen;
  const gridStyle = {stroke: "#6e6e6e", strokeOpacity: 1, strokeWidth: 1, strokeDasharray: "1,2"};
  const marks = [
    Plot.gridX(o.x.ticks, gridStyle),
    Plot.gridY(o.y.ticks, gridStyle),
    ...o.marks,
    Plot.frame({stroke: "#000", strokeWidth: 1}),
    Plot.ruleX(o.x.ticks, {x: d => d, insetTop: H - L, stroke: "#000"}),
    Plot.ruleX(o.x.ticks, {x: d => d, insetBottom: H - L, stroke: "#000"}),
    Plot.ruleY(o.y.ticks, {y: d => d, insetRight: W - L, stroke: "#000"}),
    Plot.ruleY(o.y.ticks, {y: d => d, insetLeft: W - L, stroke: "#000"}),
    Plot.axisX(o.x.ticks, {anchor: "bottom", tickSize: 0, tickPadding: o.xPad, tickFormat: o.x.format, fontSize: 16, fontWeight: "bold", label: null}),
    Plot.axisY(o.y.ticks, {anchor: "left", tickSize: 0, tickPadding: o.yPad, tickFormat: o.y.format, fontSize: 16, fontWeight: "bold", label: null}),
    Plot.text([o.title], {text: d => d, frameAnchor: "top", dy: o.titleDy, textAnchor: "middle", lineAnchor: "middle", fontSize: 16.8, fontWeight: "bold"}),
    Plot.text([o.xLabel], {text: d => d, frameAnchor: "bottom", dy: o.xLabelDy, textAnchor: "middle", lineAnchor: "middle", fontSize: 16.5, fontWeight: "bold"}),
    Plot.text([o.yLabel], {text: d => d, frameAnchor: "left", dx: o.yLabelDx, rotate: -90, textAnchor: "middle", lineAnchor: "middle", fontSize: 16.5, fontWeight: "bold"})
  ];
  const svg = Plot.plot({
    width: o.width, height: o.height,
    marginTop: mt, marginRight: mr, marginBottom: mb, marginLeft: ml,
    x: {domain: o.x.domain}, y: {domain: o.y.domain},
    style: {fontFamily: FONT, fontSize: "16px", fontWeight: "bold", overflow: "visible", background: "transparent", color: "#000"},
    marks
  });
  svg.style.position = "absolute";
  svg.style.left = o.left + "px";
  svg.style.top = o.top + "px";
  svg.style.maxWidth = "none";
  page.appendChild(svg);
}

function legend(o) {
  const svg = d3.create("svg").attr("width", o.width).attr("height", o.height)
    .style("position", "absolute").style("left", o.left + "px").style("top", o.top + "px")
    .style("font-family", FONT).style("overflow", "visible");
  svg.append("rect").attr("x", 0.5).attr("y", 0.5).attr("width", o.width - 1).attr("height", o.height - 1)
    .attr("fill", "#fff").attr("stroke", "#000").attr("stroke-width", 1);
  o.rows.forEach(r => {
    svg.append("line").attr("x1", o.x1).attr("x2", o.x2).attr("y1", r.y).attr("y2", r.y)
      .attr("stroke", r.color).attr("stroke-width", r.width).attr("stroke-dasharray", r.dash || null);
    const cx = (o.x1 + o.x2) / 2;
    if (r.marker === "dot") svg.append("circle").attr("cx", cx).attr("cy", r.y).attr("r", 3.3).attr("fill", r.color);
    else svg.append("path").attr("d", `M${cx-3},${r.y-3}L${cx+3},${r.y+3}M${cx-3},${r.y+3}L${cx+3},${r.y-3}`)
      .attr("stroke", r.color).attr("stroke-width", 1.5);
    svg.append("text").attr("x", o.tx).attr("y", r.y).attr("dy", "0.36em")
      .attr("font-size", 16.8).attr("font-weight", "bold").attr("fill", "#000").text(r.label);
  });
  page.appendChild(svg.node());
}

const timeFmt = d => timeLabels[timeTicks.indexOf(d)];

function seriesMarks(govt, ray) {
  return [
    Plot.line(govt, {x: px, y: py, stroke: BLUE, strokeWidth: 1.6, strokeDasharray: "2,2.5"}),
    Plot.dot(govt, {x: px, y: py, r: 3.3, fill: BLUE, stroke: null}),
    Plot.line(ray, {x: px, y: py, stroke: RED, strokeWidth: 2}),
    Plot.dot(ray, {x: px, y: py, r: 3.2, symbol: "times", stroke: RED, strokeWidth: 1.5})
  ];
}

// Top-left: East
panel({
  left: 0, top: 0, width: 700, height: 400, margin: [35, 23, 51, 54], tickLen: 6,
  x: {domain: [0, 180], ticks: timeTicks, format: timeFmt},
  y: {domain: [-5, 3], ticks: eastTicks, format: d => String(d)},
  xPad: 9, yPad: 6.5,
  title: titles[0], titleDy: -18.7,
  xLabel: "time (on Jan 26)", xLabelDy: 36.7,
  yLabel: "deg. East of Zenith", yLabelDx: -36,
  marks: seriesMarks(eastGovt, eastRay)
});

// Top-right: scatter
const errPoints = [...errCoreRows.flatMap(([v, hs]) => hs.map(h => [h, v])), ...errOutliers];
panel({
  left: 700, top: 0, width: 395, height: 400, margin: [33, 10, 63, 79], tickLen: 4,
  x: {domain: [-4, 4], ticks: errTicks, format: d => String(d)},
  y: {domain: [-4, 4], ticks: errTicks, format: d => String(d)},
  xPad: 10, yPad: 5,
  title: titles[1], titleDy: -19.4,
  xLabel: "in-plane horizontal error (deg)", xLabelDy: 36,
  yLabel: "in-plane vertical error (deg)", yLabelDx: -35.3,
  marks: [
    Plot.dot(errPoints, {x: px, y: py, r: 3.3, fill: BLUE, stroke: null}),
    Plot.ruleX([0], {stroke: "#000", strokeWidth: 2}),
    Plot.ruleY([0], {stroke: "#000", strokeWidth: 2})
  ]
});

// Bottom-left: North
panel({
  left: 0, top: 400, width: 700, height: 411, margin: [48, 23, 49, 54], tickLen: 6,
  x: {domain: [0, 180], ticks: timeTicks, format: timeFmt},
  y: {domain: [6, 20], ticks: northTicks, format: d => String(d)},
  xPad: 10, yPad: 5,
  title: titles[2], titleDy: -18.4,
  xLabel: "time (on Jan 26)", xLabelDy: 35.5,
  yLabel: "deg. North of Zenith", yLabelDx: -39.3,
  marks: seriesMarks(northGovt, northRay)
});

// Bottom-right: CDF
panel({
  left: 700, top: 400, width: 395, height: 411, margin: [49, 10, 48, 79], tickLen: 4,
  x: {domain: [0, 10], ticks: cdfXTicks, format: d => String(d)},
  y: {domain: [0, 1], ticks: cdfYTicks, format: d => String(d)},
  xPad: 8, yPad: 5,
  title: titles[3], titleDy: -19.4,
  xLabel: "circular solid angle error (mSR)", xLabelDy: 34,
  yLabel: "empirical CDF probability", yLabelDx: -43.3,
  marks: [
    Plot.line(cdfWithBias, {x: px, y: py, stroke: GREEN, strokeWidth: 2}),
    Plot.dot(cdfWithBias, {x: px, y: py, r: 3.2, symbol: "times", stroke: GREEN, strokeWidth: 1.5}),
    Plot.line(cdfBiasRemoved, {x: px, y: py, stroke: BLUE, strokeWidth: 1.6, strokeDasharray: "2,2.5"}),
    Plot.dot(cdfBiasRemoved, {x: px, y: py, r: 3.3, fill: BLUE, stroke: null})
  ]
});

// Legends
const seriesRows = (y1, y2) => [
  {y: y1, color: BLUE, width: 2, dash: "2,2.5", marker: "dot", label: seriesNames[0]},
  {y: y2, color: RED, width: 2, marker: "x", label: seriesNames[1]}
];
legend({left: 443, top: 290, width: 229, height: 53, x1: 10, x2: 54, tx: 60, rows: seriesRows(15, 40)});
legend({left: 443, top: 703, width: 230, height: 53, x1: 10, x2: 54, tx: 60, rows: seriesRows(15, 40)});
legend({left: 899, top: 703, width: 180, height: 53, x1: 10, x2: 55, tx: 60, rows: [
  {y: 14, color: GREEN, width: 2, marker: "x", label: cdfNames[0]},
  {y: 39, color: BLUE, width: 2, dash: "2,2.5", marker: "dot", label: cdfNames[1]}
]});
</script></body></html>
